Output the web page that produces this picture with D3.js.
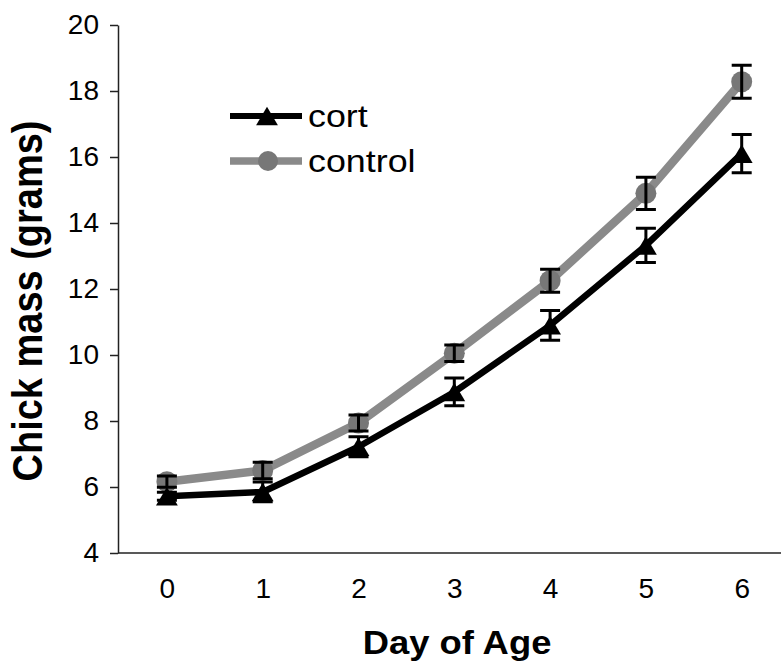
<!DOCTYPE html>
<html>
<head>
<meta charset="utf-8">
<script src="https://cdn.jsdelivr.net/npm/d3@7"></script>
<style>
  html, body { margin: 0; padding: 0; background: #fff; }
  svg { display: block; }
  text { font-family: "Liberation Sans", Arial, Helvetica, sans-serif; fill: #000; }
</style>
</head>
<body>
<svg id="chart" width="781" height="667"></svg>
<script>
// Chick mass by day of age, cort-treated vs control (mean ± SE)
const days = [0, 1, 2, 3, 4, 5, 6];
const cortMean = [5.72, 5.85, 7.22, 8.88, 10.9, 13.32, 16.1];
const cortErr = [0.12, 0.3, 0.3, 0.42, 0.45, 0.52, 0.58];
const controlMean = [6.16, 6.5, 7.94, 10.05, 12.25, 14.9, 18.28];
const controlErr = [0.17, 0.25, 0.24, 0.25, 0.35, 0.49, 0.5];
const yTicks = [4, 6, 8, 10, 12, 14, 16, 18, 20];
const seriesNames = ["cort", "control"];

const svg = d3.select("#chart");
const SX = 1.12; // horizontal widening applied to the titles and legend lettering

const x = d3.scalePoint().domain(days).range([119, 789.6]).padding(0.5);
const y = d3.scaleLinear().domain([4, 20]).range([553, 25]);

const black = "#000";
const grey = "#8a8a8a";
const greyDot = "#777";

// triangle centred on its bounding box
const tri = {
  draw(ctx, size) {
    const w = Math.sqrt(size);
    const h = w * 0.95;
    ctx.moveTo(0, -h / 2);
    ctx.lineTo(w / 2, h / 2);
    ctx.lineTo(-w / 2, h / 2);
    ctx.closePath();
  }
};

// axes
const yAxis = svg.append("g")
  .attr("transform", `translate(${x.range()[0] - 1},0)`)
  .call(d3.axisLeft(y).tickValues(yTicks).tickSize(8).tickSizeOuter(0).tickPadding(11));
yAxis.select(".domain").attr("stroke", "#222").attr("stroke-width", 1.5);
yAxis.selectAll(".tick line").attr("stroke", "#222").attr("stroke-width", 1.5);
yAxis.selectAll(".tick text")
  .attr("font-size", 28)
  .attr("dy", "0.3em");

const xAxis = svg.append("g")
  .attr("transform", `translate(0,${y(4)})`)
  .call(d3.axisBottom(x).tickSize(0).tickSizeOuter(0));
xAxis.select(".domain").attr("stroke", "#222").attr("stroke-width", 1.5)
  .attr("d", `M${x.range()[0] - 1},0H781`);
xAxis.selectAll(".tick text")
  .attr("font-size", 28)
  .attr("y", 45)
  .attr("dy", 0);

// axis titles
svg.append("text")
  .attr("transform", `translate(457,654) scale(${SX},1)`)
  .attr("text-anchor", "middle")
  .attr("font-size", 32.5)
  .attr("font-weight", "bold")
  .text("Day of Age");

svg.append("text")
  .attr("transform", `translate(42,301) scale(${SX},1) rotate(-90)`)
  .attr("text-anchor", "middle")
  .attr("font-size", 38)
  .attr("font-weight", "bold")
  .text("Chick mass (grams)");

// series
const line = d3.line().x((d, i) => x(days[i])).y(d => y(d));

const series = [
  { name: seriesNames[1], mean: controlMean, err: controlErr, color: grey, width: 8.5, marker: "circle" },
  { name: seriesNames[0], mean: cortMean, err: cortErr, color: black, width: 6.5, marker: "tri" }
];

series.forEach(s => {
  const g = svg.append("g");
  g.append("path")
    .attr("d", line(s.mean))
    .attr("fill", "none")
    .attr("stroke", s.color)
    .attr("stroke-width", s.width)
    .attr("stroke-linejoin", "round");

  if (s.marker === "circle") {
    g.selectAll("circle").data(s.mean).join("circle")
      .attr("cx", (d, i) => x(days[i]))
      .attr("cy", d => y(d))
      .attr("r", 10.5)
      .attr("fill", greyDot);
  } else {
    g.selectAll("path.m").data(s.mean).join("path")
      .attr("class", "m")
      .attr("transform", (d, i) => `translate(${x(days[i])},${y(d)}) scale(${SX},1)`)
      .attr("d", d3.symbol(tri, 380))
      .attr("fill", black);
  }

  // error bars
  const eb = g.selectAll("g.eb").data(s.mean).join("g").attr("class", "eb");
  eb.append("path")
    .attr("d", (d, i) => {
      const cx = x(days[i]);
      const top = y(d + s.err[i]);
      const bot = y(d - s.err[i]);
      const hw = 10;
      return `M${cx},${top}V${bot}M${cx - hw},${top}H${cx + hw}M${cx - hw},${bot}H${cx + hw}`;
    })
    .attr("fill", "none")
    .attr("stroke", black)
    .attr("stroke-width", 3);
});

// legend
const legendRows = [
  { name: seriesNames[0], color: black, width: 6, marker: "tri", y: 116 },
  { name: seriesNames[1], color: grey, width: 7.5, marker: "circle", y: 161 }
];
legendRows.forEach(r => {
  const g = svg.append("g");
  g.append("line")
    .attr("x1", 230).attr("x2", 302)
    .attr("y1", r.y).attr("y2", r.y)
    .attr("stroke", r.color).attr("stroke-width", r.width);
  if (r.marker === "circle") {
    g.append("circle").attr("cx", 268).attr("cy", r.y).attr("r", 10).attr("fill", greyDot);
  } else {
    g.append("path")
      .attr("transform", `translate(267,${r.y}) scale(${SX},1)`)
      .attr("d", d3.symbol(tri, 380))
      .attr("fill", black);
  }
  g.append("text")
    .attr("transform", `translate(308,${r.y + 11}) scale(${SX},1)`)
    .attr("font-size", 32)
    .text(r.name);
});
</script>
</body>
</html>
